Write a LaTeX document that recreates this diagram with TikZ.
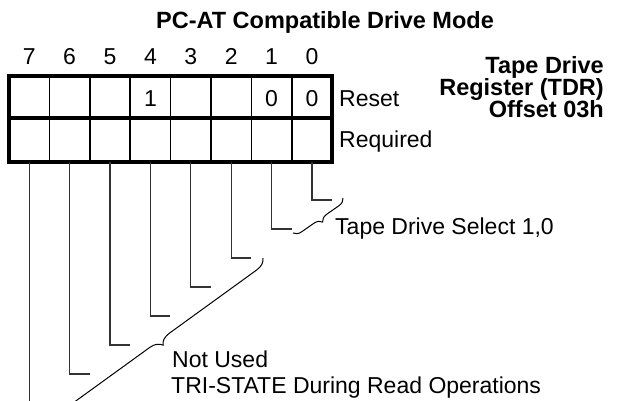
\documentclass[tikz,border=0pt]{standalone}
\usepackage{fontspec}
\setmainfont{Liberation Sans}
\usetikzlibrary{positioning, decorations.pathreplacing, calc}

\begin{document}
\begin{tikzpicture}[x=1pt, y=-1pt]
	\tikzset{
		txt/.style={font=\fontsize{23}{26}\selectfont, inner sep=0pt},
		bold txt/.style={font=\fontsize{23.5}{26}\selectfont\bfseries, inner sep=0pt},
		leader/.style={line width=1.3pt, black!80},
		bracket/.style={decorate, decoration={brace, amplitude=#1}, line width=1pt}
	}
	\useasboundingbox (0,0) rectangle (625,401);
	\clip (0,0) rectangle (625,401);
	
	% title
	\node[bold txt, anchor=base] (title) at (325,29) {PC-AT Compatible Drive Mode};
	
	% bit numbers and cell bottoms
	\foreach \b in {0,...,7} {
		\pgfmathsetmacro{\xc}{9+40.4*(7-\b)+20.2}
		\node[txt, anchor=base] (b\b) at (\xc,65) {\b};
		\coordinate (c\b) at (\xc,162);
		\coordinate (t\b) at (\xc+20,200+29*\b);
	}
	
	% register cells
	\foreach \c in {1,...,7}
		\draw[line width=1.5pt] (9+40.4*\c,76) -- (9+40.4*\c,162);
	\draw[line width=3.2pt] (9,118) -- (332,118);
	\draw[line width=3.2pt] (9,76) rectangle (332,162);
	
	% reset values
	\node[txt, anchor=base] (v4) at (b4 |- 0,107) {1};
	\node[txt, anchor=base] (v1) at (b1 |- 0,107) {0};
	\node[txt, anchor=base] (v0) at (b0 |- 0,107) {0};
	\node[txt, anchor=base west] (reset) at (339,107) {Reset};
	\node[txt, anchor=base west] (req) at (339,148) {Required};
	
	% register name
	\node[bold txt, anchor=base east] (reg1) at (604,74) {Tape Drive};
	\node[bold txt, anchor=base east] (reg2) at (604,96) {Register (TDR)};
	\node[bold txt, anchor=base east] (reg3) at (604,118) {Offset 03h};
	
	% leaders
	\foreach \b in {0,...,6}
		\draw[leader] (c\b) |- (t\b);
	\draw[leader] (c7) -- (c7 |- 0,420);
	
	% braces
	\coordinate (br1a) at (343,198);
	\coordinate (br1b) at (293,233);
	\coordinate (br2a) at (263,258);
	\coordinate (br2b) at (49,413);
	\draw[bracket=8] (br1a) -- (br1b);
	\draw[bracket=12] (br2a) -- (br2b);
	
	\node[txt, anchor=base west] (sel) at (335,235) {Tape Drive Select 1,0};
	\node[txt, anchor=base west] (unused) at (172,368) {Not Used};
	\node[txt, anchor=base west] (tri) at (171,393) {TRI-STATE During Read Operations};
\end{tikzpicture}
\end{document}
